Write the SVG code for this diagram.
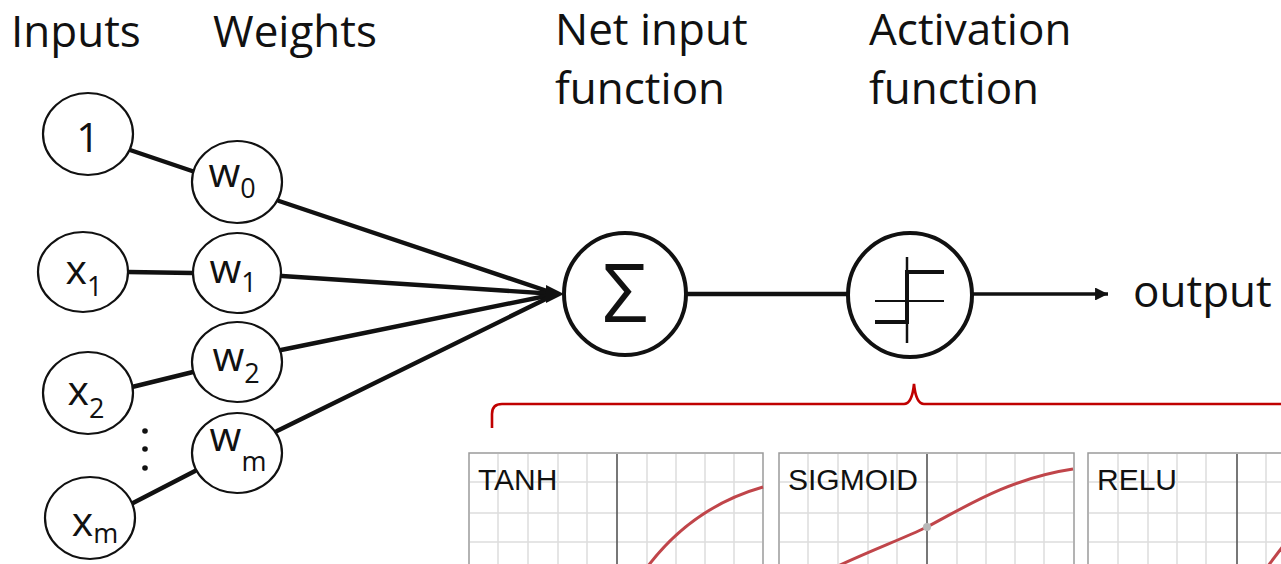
<svg xmlns="http://www.w3.org/2000/svg" width="1281" height="564" viewBox="0 0 1281 564">
  <style>
    .hdr { font-family: "Open Sans", "Noto Sans", sans-serif; font-size: 44px; fill: #111; }
    .node { fill: #fff; stroke: #111; stroke-width: 2.2; }
    .big { fill: #fff; stroke: #111; stroke-width: 4; }
    .lbl { font-family: "Open Sans", "Noto Sans", sans-serif; font-size: 41px; fill: #111; text-anchor: middle; }
    .sub { font-size: 27px; }
    .edge { stroke: #111; stroke-width: 4.4; fill: none; stroke-linecap: round; }
    .panel { fill: #fff; stroke: #9a9a9a; stroke-width: 1.5; }
    .grid { stroke: #dcdcdc; stroke-width: 1.5; }
    .axis { stroke: #555; stroke-width: 1.6; }
    .curve { fill: none; stroke: #c0454a; stroke-width: 3; }
    .plabel { font-family: "Liberation Sans", Arial, sans-serif; font-size: 30px; fill: #111; }
  </style>
  <defs>
    <marker id="arrow" viewBox="0 0 10 10" refX="10" refY="5" markerWidth="4.4" markerHeight="3.6" markerUnits="strokeWidth" orient="auto">
      <path d="M0,0 L10,5 L0,10 z" fill="#111"/>
    </marker>
  </defs>

  <!-- column headings -->
  <g id="headings">
    <text class="hdr" x="11" y="47">Inputs</text>
    <text class="hdr" x="213" y="47">Weights</text>
    <text class="hdr" x="555" y="45">Net input</text>
    <text class="hdr" x="555" y="104">function</text>
    <text class="hdr" x="869" y="45">Activation</text>
    <text class="hdr" x="869" y="104">function</text>
  </g>

  <!-- connectors -->
  <g id="connectors">
    <line class="edge" x1="130" y1="150" x2="195" y2="172"/>
    <line class="edge" x1="128" y1="272" x2="193" y2="273"/>
    <line class="edge" x1="132" y1="387" x2="193" y2="372"/>
    <line class="edge" x1="133" y1="503" x2="195" y2="471"/>
    <line class="edge" x1="279" y1="201" x2="556" y2="294"/>
    <line class="edge" x1="282" y1="276" x2="556" y2="294"/>
    <line class="edge" x1="281" y1="350" x2="556" y2="294"/>
    <line class="edge" x1="277" y1="431" x2="556" y2="294"/>
    <path d="M546,285 L564,294 L546,303 z" fill="#111"/>
    <line class="edge" x1="687" y1="294" x2="848" y2="294"/>
    <line x1="973" y1="294" x2="1108" y2="294" stroke="#111" stroke-width="3.6" marker-end="url(#arrow)"/>
  </g>

  <!-- input nodes -->
  <g id="in-1">
    <ellipse class="node" cx="88" cy="134" rx="45" ry="41"/>
    <text class="lbl" x="88" y="152">1</text>
  </g>
  <g id="in-x1">
    <ellipse class="node" cx="83" cy="272" rx="45" ry="40"/>
    <text class="lbl" x="84" y="284">x<tspan class="sub" dy="12">1</tspan></text>
  </g>
  <g id="in-x2">
    <ellipse class="node" cx="88" cy="393" rx="45" ry="41"/>
    <text class="lbl" x="86" y="405">x<tspan class="sub" dy="13">2</tspan></text>
  </g>
  <g id="dots">
    <circle cx="145" cy="431" r="2.8" fill="#111"/>
    <circle cx="145" cy="449" r="2.8" fill="#111"/>
    <circle cx="145" cy="468" r="2.8" fill="#111"/>
  </g>
  <g id="in-xm">
    <ellipse class="node" cx="90" cy="518" rx="45" ry="41"/>
    <text class="lbl" x="95" y="536">x<tspan class="sub" dy="7">m</tspan></text>
  </g>

  <!-- weight nodes -->
  <g id="w-0">
    <ellipse class="node" cx="237" cy="182" rx="45" ry="41"/>
    <text class="lbl" x="232" y="187">w<tspan class="sub" dy="11">0</tspan></text>
  </g>
  <g id="w-1">
    <ellipse class="node" cx="237" cy="273" rx="44" ry="40"/>
    <text class="lbl" x="233" y="283">w<tspan class="sub" dy="9">1</tspan></text>
  </g>
  <g id="w-2">
    <ellipse class="node" cx="237" cy="362" rx="45" ry="40"/>
    <text class="lbl" x="236" y="371">w<tspan class="sub" dy="12">2</tspan></text>
  </g>
  <g id="w-m">
    <ellipse class="node" cx="237" cy="453" rx="45" ry="40"/>
    <text class="lbl" x="238" y="451">w<tspan class="sub" dy="20">m</tspan></text>
  </g>

  <!-- net input (sum) -->
  <g id="sum">
    <circle class="big" cx="625" cy="294" r="61"/>
    <text x="625" y="322" font-family="Open Sans, sans-serif" font-size="80" fill="#111" text-anchor="middle">Σ</text>
  </g>

  <!-- activation (step) -->
  <g id="activation">
    <circle class="big" cx="910" cy="295" r="62"/>
    <line x1="907" y1="257" x2="907" y2="343" stroke="#111" stroke-width="2.5"/>
    <line x1="875" y1="301" x2="944" y2="301" stroke="#111" stroke-width="2.2"/>
    <polyline points="875,322 907,322 907,272 944,272" fill="none" stroke="#111" stroke-width="4"/>
  </g>

  <g id="output">
    <text class="hdr" x="1133" y="307">output</text>
  </g>

  <!-- brace over activation examples -->
  <g id="brace">
    <path d="M492,428 L492,414 Q492,404 502,404 L904,404 Q912,404 914,384 Q916,404 924,404 L1281,404" fill="none" stroke="#c00000" stroke-width="2.6"/>
  </g>

  <!-- activation function plots -->
  <g id="plot-tanh">
    <rect class="panel" x="469" y="453" width="294" height="140"/>
    <g class="grid">
      <line x1="498" y1="454" x2="498" y2="564"/><line x1="528" y1="454" x2="528" y2="564"/>
      <line x1="558" y1="454" x2="558" y2="564"/><line x1="587" y1="454" x2="587" y2="564"/>
      <line x1="647" y1="454" x2="647" y2="564"/><line x1="676" y1="454" x2="676" y2="564"/>
      <line x1="705" y1="454" x2="705" y2="564"/><line x1="734" y1="454" x2="734" y2="564"/>
      <line x1="470" y1="482" x2="762" y2="482"/><line x1="470" y1="513" x2="762" y2="513"/>
      <line x1="470" y1="542" x2="762" y2="542"/>
    </g>
    <line class="axis" x1="617" y1="454" x2="617" y2="564"/>
    <path class="curve" d="M648,566 C674,532 710,502 763,487"/>
    <text class="plabel" x="478" y="490">TANH</text>
  </g>

  <g id="plot-sigmoid">
    <rect class="panel" x="779" y="453" width="295" height="140"/>
    <g class="grid">
      <line x1="808" y1="454" x2="808" y2="564"/><line x1="838" y1="454" x2="838" y2="564"/>
      <line x1="868" y1="454" x2="868" y2="564"/><line x1="897" y1="454" x2="897" y2="564"/>
      <line x1="957" y1="454" x2="957" y2="564"/><line x1="986" y1="454" x2="986" y2="564"/>
      <line x1="1015" y1="454" x2="1015" y2="564"/><line x1="1044" y1="454" x2="1044" y2="564"/>
      <line x1="780" y1="482" x2="1073" y2="482"/><line x1="780" y1="513" x2="1073" y2="513"/>
      <line x1="780" y1="542" x2="1073" y2="542"/>
    </g>
    <line class="axis" x1="927" y1="454" x2="927" y2="564"/>
    <path class="curve" d="M838,566 C872,550 902,539 927,527 C968,505 1012,478 1073,469"/>
    <circle cx="927" cy="527" r="4" fill="#b8b8b8"/>
    <text class="plabel" x="788" y="490">SIGMOID</text>
  </g>

  <g id="plot-relu">
    <rect class="panel" x="1088" y="453" width="220" height="140"/>
    <g class="grid">
      <line x1="1118" y1="454" x2="1118" y2="564"/><line x1="1148" y1="454" x2="1148" y2="564"/>
      <line x1="1177" y1="454" x2="1177" y2="564"/><line x1="1206" y1="454" x2="1206" y2="564"/>
      <line x1="1266" y1="454" x2="1266" y2="564"/>
      <line x1="1089" y1="482" x2="1281" y2="482"/><line x1="1089" y1="513" x2="1281" y2="513"/>
      <line x1="1089" y1="542" x2="1281" y2="542"/>
    </g>
    <line class="axis" x1="1237" y1="454" x2="1237" y2="564"/>
    <path class="curve" d="M1268,566 L1283,546"/>
    <text class="plabel" x="1097" y="490">RELU</text>
  </g>
</svg>
